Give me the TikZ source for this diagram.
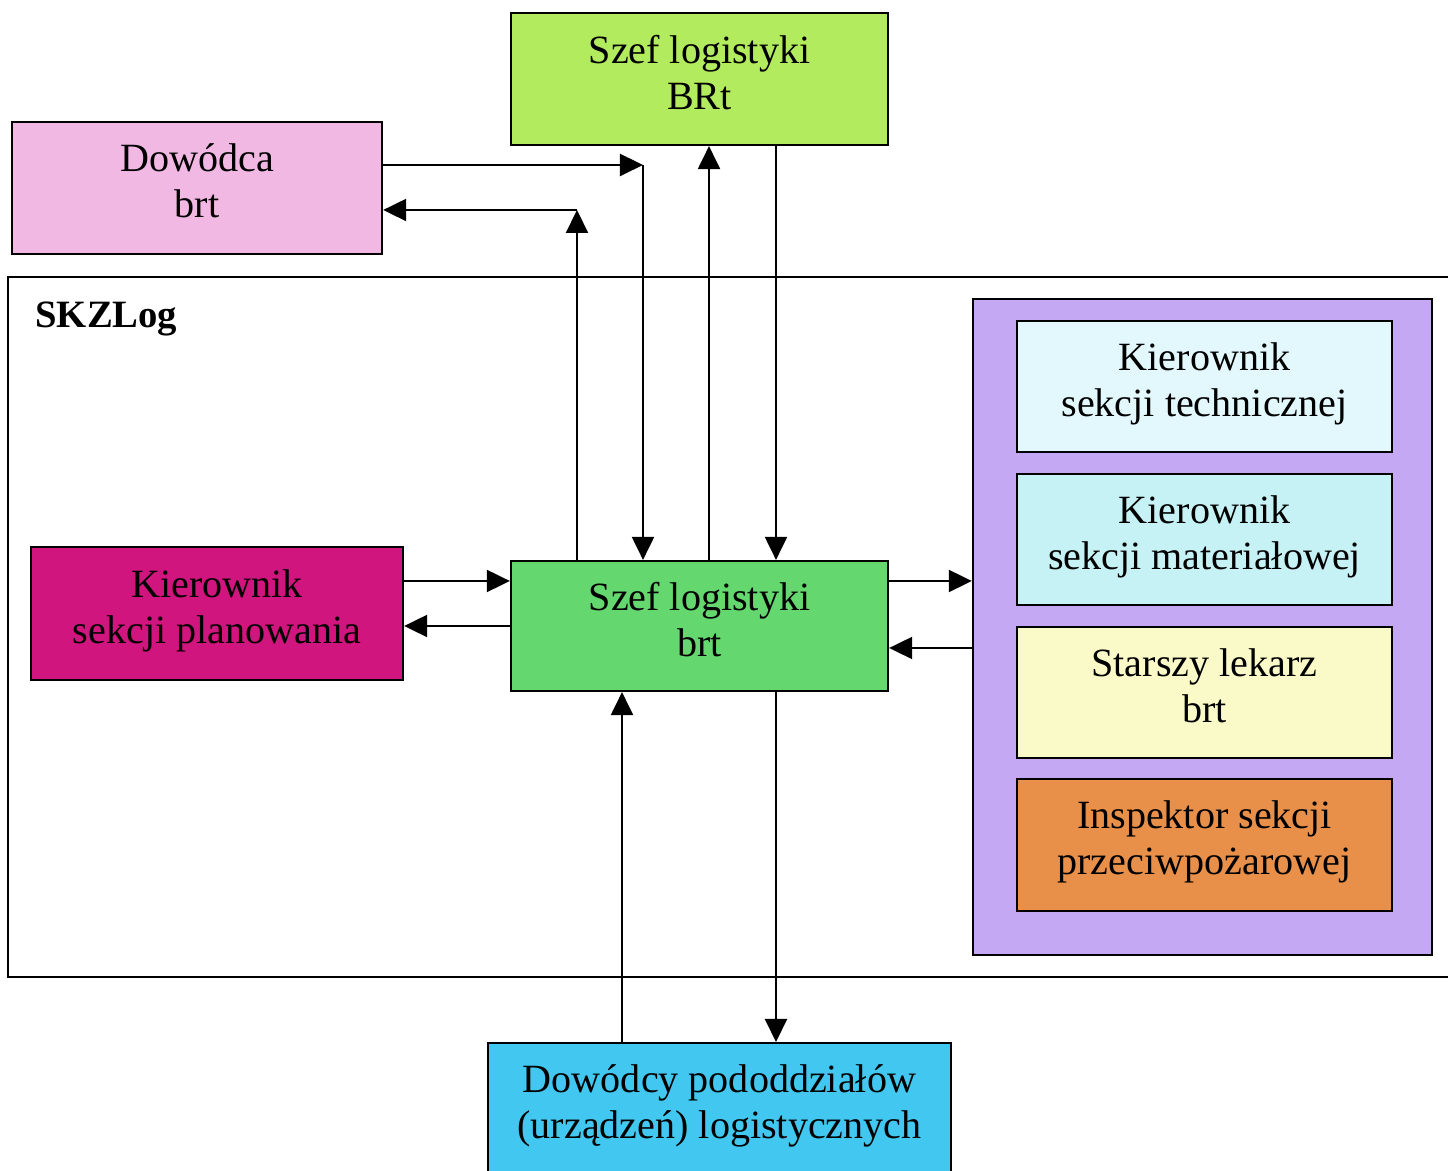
\documentclass[tikz,border=0pt]{standalone}
\usepackage{fontspec}
\setmainfont{Liberation Serif}
\usetikzlibrary{arrows.meta, positioning, calc}

\definecolor{szefBRt}{HTML}{B2EC5E}
\definecolor{dowodca}{HTML}{F2B8E4}
\definecolor{sekcje}{HTML}{C4A8F4}
\definecolor{techn}{HTML}{E2F8FC}
\definecolor{mater}{HTML}{C6F2F6}
\definecolor{lekarz}{HTML}{FAFAC8}
\definecolor{pozar}{HTML}{E8904A}
\definecolor{plan}{HTML}{D0167E}
\definecolor{szefbrt}{HTML}{64D86E}
\definecolor{pododdz}{HTML}{42C8F0}

\begin{document}
\begin{tikzpicture}[
    x=0.01cm, y=-0.01cm,
    box/.style={draw, line width=0.6pt, align=center, inner sep=0pt, text depth=4pt,
                font=\fontsize{11.4}{13.1}\selectfont},
    arr/.style={line width=0.6pt, -{Triangle[length=2.3mm, width=2.2mm]}},
]
\fill[white] (0,0) rectangle (1448,1171);
\useasboundingbox (0,0) rectangle (1448,1171);

% SKZLog frame
\draw[line width=0.6pt] (1460,277) -- (8,277) -- (8,977) -- (1460,977);
\node[anchor=west, font=\fontsize{11}{13}\selectfont\bfseries] (skz) at (23,319) {SKZLog};

% upper level
\node[box, fill=szefBRt, minimum width=3.77cm, minimum height=1.32cm] (bRt) at (699.5,79) {Szef logistyki\\BRt};
\node[box, fill=dowodca, minimum width=3.70cm, minimum height=1.32cm] (dow) at (197,188) {Dowódca\\brt};

% sections
\node[box, fill=sekcje, minimum width=4.59cm, minimum height=6.56cm] (sek) at (1202.5,627) {};
\node[box, fill=techn, minimum width=3.75cm, minimum height=1.31cm] (tech) at (1204.5,386.5) {Kierownik\\sekcji technicznej};
\node[box, fill=mater, minimum width=3.75cm, minimum height=1.31cm] (mat) at (1204.5,539.5) {Kierownik\\sekcji materiałowej};
\node[box, fill=lekarz, minimum width=3.75cm, minimum height=1.31cm] (lek) at (1204.5,692.5) {Starszy lekarz\\brt};
\node[box, fill=pozar, minimum width=3.75cm, minimum height=1.32cm] (insp) at (1204.5,845) {Inspektor sekcji\\przeciwpożarowej};

\node[box, fill=plan, minimum width=3.72cm, minimum height=1.33cm] (plan) at (217,613.5) {Kierownik\\sekcji planowania};
\node[box, fill=szefbrt, minimum width=3.77cm, minimum height=1.30cm] (brt) at (699.5,626) {Szef logistyki\\brt};

% subordinate units
\node[box, fill=pododdz, minimum width=4.63cm, minimum height=1.5cm, anchor=north] (pod) at (719.5,1042) {};
\node[box, draw=none, anchor=center] (podtxt) at (719.5,1109) {Dowódcy pododdziałów\\(urządzeń) logistycznych};

% corners and columns
\coordinate (k1) at (643,165);
\coordinate (k2) at (577,210);
\coordinate (c3) at (709,0);
\coordinate (c4) at (776,0);
\coordinate (c5) at (622,0);
\coordinate (r1) at (0,581);
\coordinate (r2) at (0,626);
\coordinate (r3) at (0,648);

\draw[arr] (dow.east |- k1) -- (k1);
\draw[arr] (k1) -- (brt.north -| k1);
\draw[arr] (brt.north -| k2) -- (k2);
\draw[arr] (k2) -- (dow.east |- k2);
\draw[arr] (brt.north -| c3) -- (bRt.south -| c3);
\draw[arr] (bRt.south -| c4) -- (brt.north -| c4);

\draw[arr] (plan.east |- r1) -- (brt.west |- r1);
\draw[arr] (brt.west |- r2) -- (plan.east |- r2);
\draw[arr] (brt.east |- r1) -- (sek.west |- r1);
\draw[arr] (sek.west |- r3) -- (brt.east |- r3);

\draw[arr] (pod.north -| c5) -- (brt.south -| c5);
\draw[arr] (brt.south -| c4) -- (pod.north -| c4);
\end{tikzpicture}
\end{document}
